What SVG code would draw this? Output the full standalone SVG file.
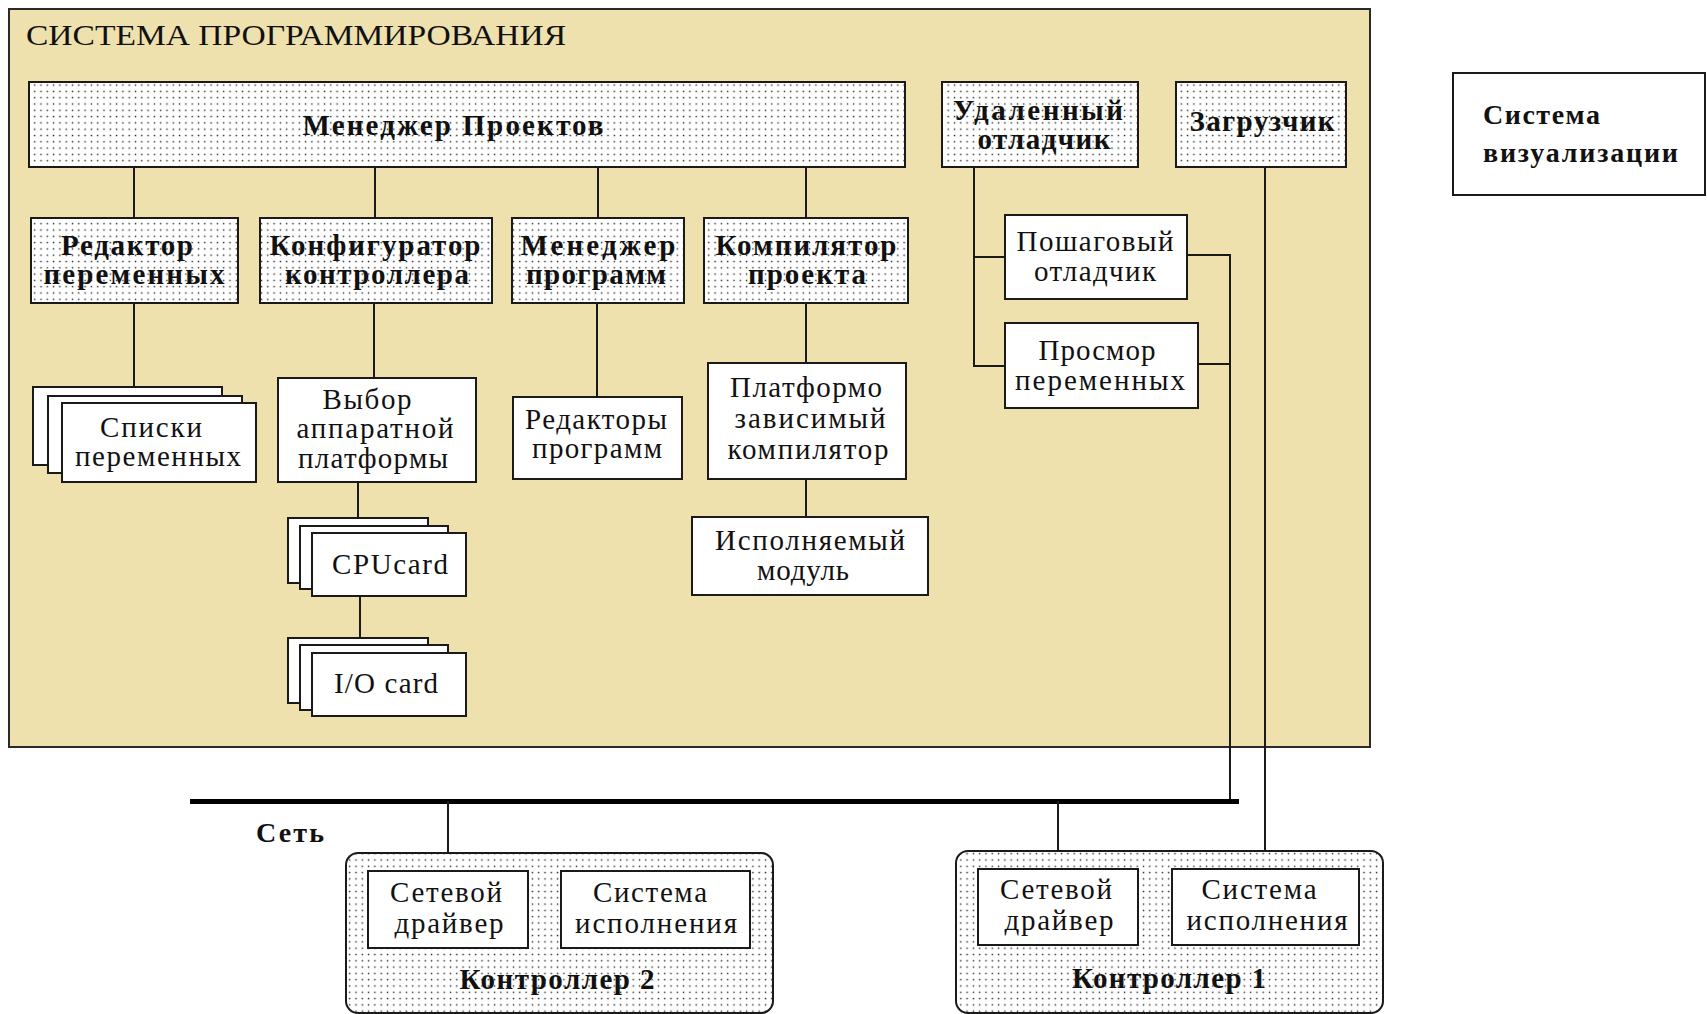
<svg xmlns="http://www.w3.org/2000/svg" width="1707" height="1014" viewBox="0 0 1707 1014">
<defs>
<pattern id="dots" x="0" y="0" width="6.3" height="6.3" patternUnits="userSpaceOnUse">
<rect width="6.3" height="6.3" fill="#ffffff"/>
<rect x="2.5" y="2.5" width="1.4" height="1.4" fill="#222"/>
</pattern>
</defs>
<style>
.box{fill:#ffffff;stroke:#1a1a1a;stroke-width:2}
.dot{fill:url(#dots);stroke:#1a1a1a;stroke-width:2}
.ln{stroke:#1a1a1a;stroke-width:2;fill:none}
.t{font-family:"Liberation Serif","Times New Roman",serif;font-size:29px;fill:#111;text-anchor:middle}
.b{font-family:"Liberation Serif","Times New Roman",serif;font-size:29px;font-weight:bold;fill:#111;text-anchor:middle}
.vb{font-family:"Liberation Serif","Times New Roman",serif;font-size:28px;font-weight:bold;fill:#111}
</style>
<rect width="1707" height="1014" fill="#ffffff"/>

<g id="programming-system">
<rect x="9" y="9" width="1361" height="738" fill="#EEE1AE" stroke="#2a2a2a" stroke-width="2"/>
<text x="26" y="45" font-family="Liberation Serif, serif" font-size="30" fill="#111" textLength="540" lengthAdjust="spacingAndGlyphs">СИСТЕМА ПРОГРАММИРОВАНИЯ</text>
</g>

<g id="connectors">
<line class="ln" x1="134" y1="167" x2="134" y2="218"/>
<line class="ln" x1="375" y1="167" x2="375" y2="218"/>
<line class="ln" x1="598" y1="167" x2="598" y2="218"/>
<line class="ln" x1="806" y1="167" x2="806" y2="218"/>
<line class="ln" x1="134" y1="303" x2="134" y2="387"/>
<line class="ln" x1="374" y1="303" x2="374" y2="378"/>
<line class="ln" x1="358" y1="482" x2="358" y2="518"/>
<line class="ln" x1="360" y1="596" x2="360" y2="638"/>
<line class="ln" x1="597" y1="303" x2="597" y2="397"/>
<line class="ln" x1="806" y1="303" x2="806" y2="363"/>
<line class="ln" x1="806" y1="479" x2="806" y2="517"/>
<polyline class="ln" points="974,167 974,366 1005,366"/>
<line class="ln" x1="974" y1="257" x2="1005" y2="257"/>
<polyline class="ln" points="1187,255 1230,255 1230,801"/>
<line class="ln" x1="1198" y1="364" x2="1230" y2="364"/>
<line class="ln" x1="1265" y1="167" x2="1265" y2="869"/>
<line x1="190" y1="801.5" x2="1239" y2="801.5" stroke="#000" stroke-width="5"/>
<line class="ln" x1="448" y1="801" x2="448" y2="871"/>
<line class="ln" x1="1058" y1="801" x2="1058" y2="869"/>
<line class="ln" x1="528" y1="907" x2="561" y2="907"/>
<line class="ln" x1="1138" y1="906" x2="1172" y2="906"/>
</g>

<g id="project-manager">
<rect class="dot" x="29" y="82" width="876" height="85"/>
<text class="b" x="453" y="135" font-size="30" textLength="301" lengthAdjust="spacing">Менеджер Проектов</text>
</g>

<g id="remote-debugger">
<rect class="dot" x="942" y="82" width="196" height="85"/>
<text class="b" x="1038" y="120" textLength="170" lengthAdjust="spacing">Удаленный</text>
<text class="b" x="1044" y="149" textLength="133" lengthAdjust="spacing">отладчик</text>
</g>

<g id="loader">
<rect class="dot" x="1176" y="82" width="170" height="85"/>
<text class="b" x="1262" y="131" textLength="145" lengthAdjust="spacing">Загрузчик</text>
</g>

<g id="visualization-system">
<rect class="box" x="1453" y="73" width="252" height="122"/>
<text class="vb" x="1483" y="124" textLength="117" lengthAdjust="spacing">Система</text>
<text class="vb" x="1483" y="162" textLength="195" lengthAdjust="spacing">визуализации</text>
</g>

<g id="variable-editor">
<rect class="dot" x="31" y="218" width="207" height="85"/>
<text class="b" x="127" y="255" textLength="132" lengthAdjust="spacing">Редактор</text>
<text class="b" x="134" y="284" textLength="181" lengthAdjust="spacing">переменных</text>
</g>

<g id="controller-configurator">
<rect class="dot" x="260" y="218" width="232" height="85"/>
<text class="b" x="375" y="255" textLength="211" lengthAdjust="spacing">Конфигуратор</text>
<text class="b" x="377" y="284" textLength="184" lengthAdjust="spacing">контроллера</text>
</g>

<g id="program-manager">
<rect class="dot" x="512" y="218" width="172" height="85"/>
<text class="b" x="598" y="255" textLength="155" lengthAdjust="spacing">Менеджер</text>
<text class="b" x="596" y="284" textLength="140" lengthAdjust="spacing">программ</text>
</g>

<g id="project-compiler">
<rect class="dot" x="704" y="218" width="204" height="85"/>
<text class="b" x="806" y="255" textLength="181" lengthAdjust="spacing">Компилятор</text>
<text class="b" x="807" y="284" textLength="118" lengthAdjust="spacing">проекта</text>
</g>

<g id="variable-lists">
<rect class="box" x="33" y="387" width="189" height="78"/>
<rect class="box" x="48" y="396" width="194" height="77"/>
<rect class="box" x="62" y="403" width="194" height="79"/>
<text class="t" x="151" y="437" textLength="102" lengthAdjust="spacing">Списки</text>
<text class="t" x="158" y="466" textLength="166" lengthAdjust="spacing">переменных</text>
</g>

<g id="hardware-platform">
<rect class="box" x="278" y="378" width="198" height="104"/>
<text class="t" x="367" y="409" textLength="89" lengthAdjust="spacing">Выбор</text>
<text class="t" x="375" y="438" textLength="157" lengthAdjust="spacing">аппаратной</text>
<text class="t" x="373" y="468" textLength="150" lengthAdjust="spacing">платформы</text>
</g>

<g id="cpu-card">
<rect class="box" x="288" y="518" width="140" height="65"/>
<rect class="box" x="300" y="526" width="148" height="63"/>
<rect class="box" x="312" y="533" width="154" height="63"/>
<text class="t" x="390" y="574" textLength="116" lengthAdjust="spacing">CPUcard</text>
</g>

<g id="io-card">
<rect class="box" x="288" y="638" width="140" height="65"/>
<rect class="box" x="300" y="645" width="148" height="65"/>
<rect class="box" x="312" y="653" width="154" height="63"/>
<text class="t" x="386" y="693" textLength="104" lengthAdjust="spacing">I/O card</text>
</g>

<g id="program-editors">
<rect class="box" x="513" y="397" width="169" height="82"/>
<text class="t" x="596" y="429" textLength="142" lengthAdjust="spacing">Редакторы</text>
<text class="t" x="597" y="458" textLength="130" lengthAdjust="spacing">программ</text>
</g>

<g id="platform-compiler">
<rect class="box" x="708" y="363" width="198" height="116"/>
<text class="t" x="806" y="397" textLength="152" lengthAdjust="spacing">Платформо</text>
<text class="t" x="810" y="428" textLength="151" lengthAdjust="spacing">зависимый</text>
<text class="t" x="808" y="459" textLength="161" lengthAdjust="spacing">компилятор</text>
</g>

<g id="executable-module">
<rect class="box" x="692" y="517" width="236" height="78"/>
<text class="t" x="810" y="550" textLength="190" lengthAdjust="spacing">Исполняемый</text>
<text class="t" x="803" y="580" textLength="92" lengthAdjust="spacing">модуль</text>
</g>

<g id="step-debugger">
<rect class="box" x="1005" y="215" width="182" height="84"/>
<text class="t" x="1095" y="251" textLength="157" lengthAdjust="spacing">Пошаговый</text>
<text class="t" x="1095" y="281" textLength="122" lengthAdjust="spacing">отладчик</text>
</g>

<g id="variable-viewer">
<rect class="box" x="1005" y="323" width="193" height="85"/>
<text class="t" x="1097" y="360" textLength="117" lengthAdjust="spacing">Просмор</text>
<text class="t" x="1100" y="390" textLength="170" lengthAdjust="spacing">переменных</text>
</g>

<g id="network-label">
<text class="vb" x="256" y="842" textLength="68" lengthAdjust="spacing">Сеть</text>
</g>

<g id="controller-2">
<rect class="dot" x="346" y="853" width="427" height="160" rx="12" ry="12"/>
<rect class="box" x="368" y="871" width="160" height="77"/>
<rect class="box" x="561" y="871" width="189" height="77"/>
<text class="t" x="446" y="902" textLength="112" lengthAdjust="spacing">Сетевой</text>
<text class="t" x="449" y="933" textLength="109" lengthAdjust="spacing">драйвер</text>
<text class="t" x="650" y="902" textLength="114" lengthAdjust="spacing">Система</text>
<text class="t" x="656" y="933" textLength="162" lengthAdjust="spacing">исполнения</text>
<text class="b" x="557" y="989" textLength="195" lengthAdjust="spacing">Контроллер 2</text>
</g>

<g id="controller-1">
<rect class="dot" x="956" y="851" width="427" height="162" rx="12" ry="12"/>
<rect class="box" x="978" y="869" width="160" height="76"/>
<rect class="box" x="1172" y="869" width="187" height="76"/>
<text class="t" x="1056" y="899" textLength="112" lengthAdjust="spacing">Сетевой</text>
<text class="t" x="1059" y="930" textLength="109" lengthAdjust="spacing">драйвер</text>
<text class="t" x="1259" y="899" textLength="115" lengthAdjust="spacing">Система</text>
<text class="t" x="1267" y="930" textLength="161" lengthAdjust="spacing">исполнения</text>
<text class="b" x="1169" y="988" textLength="194" lengthAdjust="spacing">Контроллер 1</text>
</g>
</svg>
